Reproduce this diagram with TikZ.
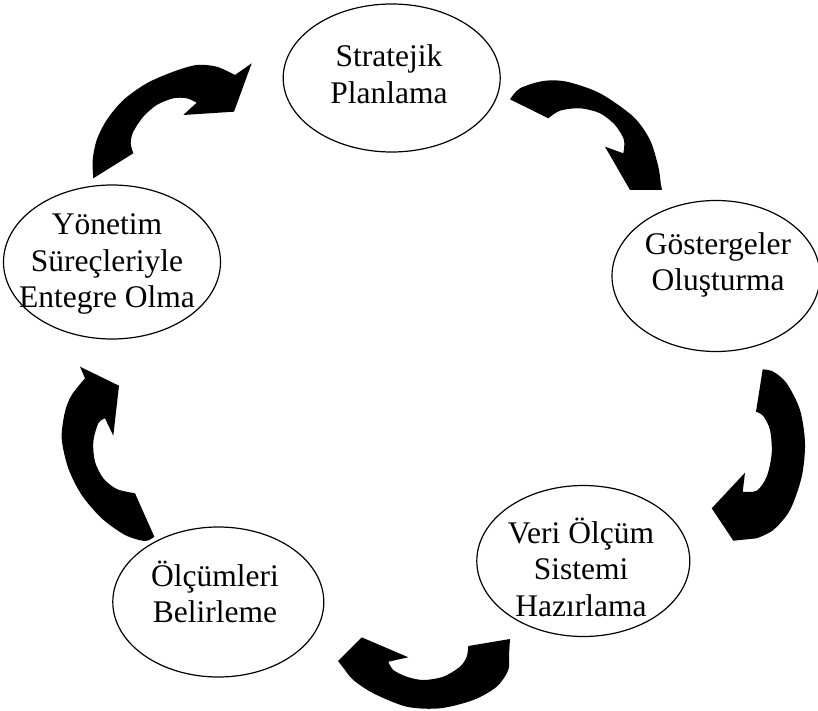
\documentclass[tikz,border=0pt]{standalone}
\usepackage{fontspec}
\setmainfont{Liberation Serif}
\usetikzlibrary{shapes.geometric}
\begin{document}
\begin{tikzpicture}[x=1pt,y=-1pt,
  ell/.style={ellipse, draw=black, line width=1.2pt, inner sep=0pt},
  lbl/.style={align=center, inner sep=0pt, font=\fontsize{31.5}{36.5}\selectfont},
  blk/.style={fill=black}]
\useasboundingbox (0,0) rectangle (818,711);
% ellipses
\node[ell, minimum width=217pt, minimum height=148pt] (sp) at (391.7,78) {};
\node[ell, minimum width=208pt, minimum height=151pt] (go) at (716,276) {};
\node[ell, minimum width=213pt, minimum height=151pt] (vo) at (583.3,561) {};
\node[ell, minimum width=211pt, minimum height=150pt] (ob) at (218.3,602) {};
\node[ell, minimum width=217pt, minimum height=154pt] (ys) at (112,262) {};
% texts
\node[lbl] (spt) at (389,74.3) {Stratejik\\Planlama};
\node[lbl] (got) at (718,265) {Göstergeler\\Oluşturma};
\node[lbl] (vot) at (581,567) {Veri Ölçüm\\Sistemi\\Hazırlama};
\node[lbl] (obt) at (215,592) {Ölçümleri\\Belirleme};
\node[lbl] (yst) at (107,264.3) {Yönetim\\Süreçleriyle\\Entegre Olma};
% arrow 1: Yonetim -> Stratejik
\fill[blk] (133.3,153.3) -- plot[smooth] coordinates {(93.3,178.3) (92.7,160) (96.7,140) (106.7,120) (123.3,100) (146.7,83.3) (173.3,71.7) (196.7,65) (216.7,66.7) (235,75)}
  -- (251.7,63.3) -- (234,111.7) -- (183.3,115)
  -- plot[smooth] coordinates {(196.7,102.7) (186.7,98.3) (173.3,98.3) (156.7,105) (143.3,116.7) (133.3,131.7) (130.7,143.3) (133.3,153.3)} -- cycle;
% arrow 2: Stratejik -> Gostergeler
\fill[blk] (548.3,118.3) -- plot[smooth] coordinates {(510,99.3) (520,88.3) (543.3,81) (566.7,81.7) (600,93.3) (633.3,116.7) (650,140) (658.3,166.7) (660.7,183.3)}
  -- (662,190) -- (630,190) -- (605,146.7)
  -- plot[smooth] coordinates {(623.3,153.3) (624,140) (615,125) (600,113.3) (580,108.3) (560,110.7) (548.3,118.3)} -- cycle;
% arrow 3: Gostergeler -> Veri
\fill[blk] (756,411.7) -- plot[smooth] coordinates {(762.7,369.3) (773.3,371.7) (786.7,383.3) (800,410) (805,443.3) (801.7,476.7) (790,510) (773.3,530) (756.7,538.3)}
  -- (733.3,540.7) -- (711.7,508.3) -- (745,472.7)
  -- plot[smooth] coordinates {(742.7,491.7) (756.7,490.7) (766.7,476.7) (771.7,453.3) (770,430) (763.3,416) (756,411.7)} -- cycle;
% arrow 4: Veri -> Olcumleri
\fill[blk] (468.3,646) -- plot[smooth] coordinates {(510,639) (509,655) (508.3,670) (496.7,686.7) (473.3,700) (440,708.3) (406.7,706.7) (373.3,693.3) (353.3,680) (345,670)}
  -- (338,661) -- (361.7,637.3) -- (408.3,657.3)
  -- plot[smooth] coordinates {(388.3,661.7) (393.3,670) (406.7,676.7) (423.3,680) (443.3,676.7) (460,666.7) (466.7,656.7) (468.3,646)} -- cycle;
% arrow 5: Olcumleri -> Yonetim
\fill[blk] (135,493.3) -- plot[smooth] coordinates {(154.3,536.7) (145,541) (125,535) (101.7,518.3) (81.7,495) (68.3,468.3) (61.7,438.3) (65,411.7) (71.7,395) (85,378.3)}
  -- (80,366.7) -- (119,385.7) -- (113.3,435.7)
  -- plot[smooth] coordinates {(105,418.3) (98.3,423.3) (93.3,441.7) (95,461.7) (103.3,478.3) (116.7,489) (135,493.3)} -- cycle;
\end{tikzpicture}
\end{document}
